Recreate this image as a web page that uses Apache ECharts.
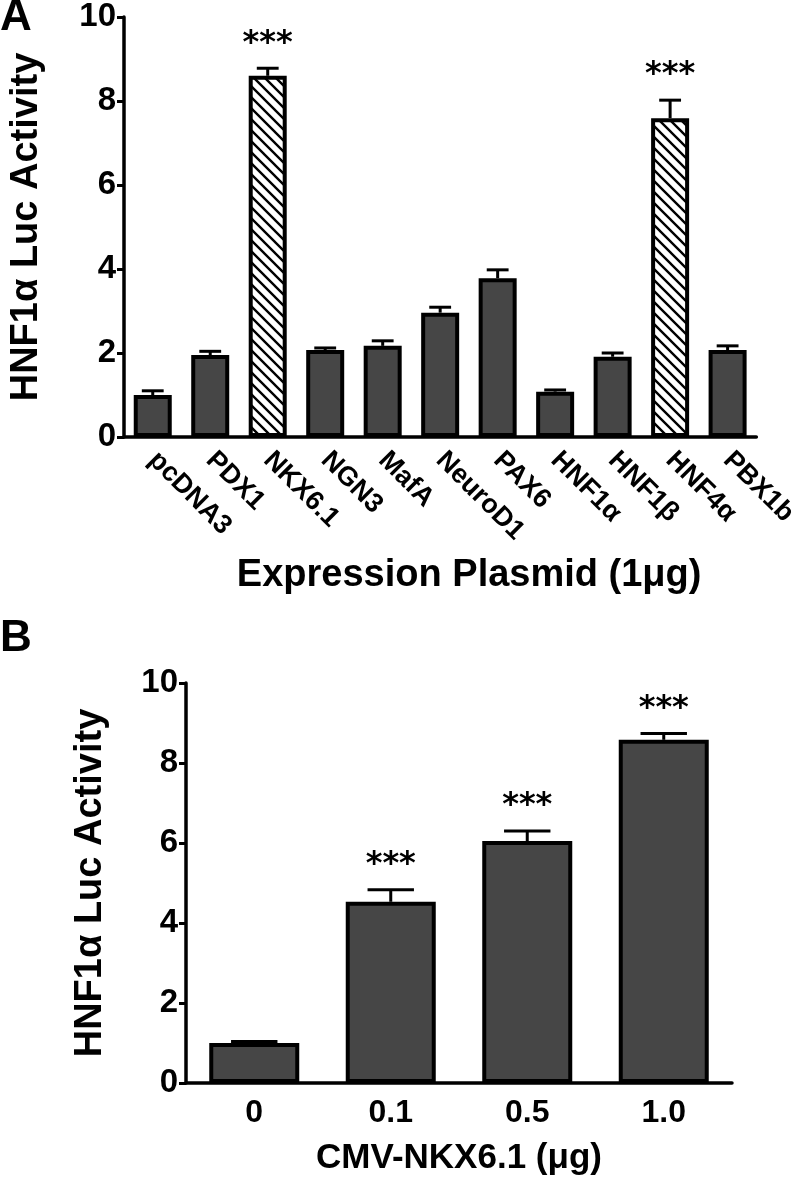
<!DOCTYPE html>
<html>
<head>
<meta charset="utf-8">
<script src="https://cdn.jsdelivr.net/npm/echarts@6/dist/echarts.min.js"></script>
<style>
html,body{margin:0;padding:0;background:#fff;}
#chart{width:800px;height:1181px;}
</style>
</head>
<body>
<div id="chart"></div>
<script>
// ---- Data ----
const catsA = ['pcDNA3','PDX1','NKX6.1','NGN3','MafA','NeuroD1','PAX6','HNF1α','HNF1β','HNF4α','PBX1b'];
const valsA = [1.0, 1.95, 8.6, 2.07, 2.17, 2.96, 3.78, 1.08, 1.91, 7.59, 2.07];
const errA  = [0.10, 0.09, 0.18, 0.05, 0.12, 0.13, 0.20, 0.04, 0.09, 0.43, 0.10];
const hatchA = [false, false, true, false, false, false, false, false, false, true, false];
const sigA  = ['', '', '***', '', '', '', '', '', '', '***', ''];

const catsB = ['0', '0.1', '0.5', '1.0'];
const valsB = [1.0, 4.53, 6.05, 8.58];
const errB  = [0.04, 0.30, 0.25, 0.16];
const sigB  = ['', '***', '***', '***'];

const yTicks = [0, 2, 4, 6, 8, 10];

const titleA = 'Expression Plasmid (1μg)';
const titleB = 'CMV-NKX6.1 (μg)';
const yTitle = 'HNF1α Luc Activity';

// ---- Style ----
const FONT = 'Liberation Sans';
const STAR_FONT = 'DejaVu Sans';
const BAR = '#464646';

function hatchPattern() {
  const s = 11;
  const c = document.createElement('canvas');
  c.width = s; c.height = s;
  const ctx = c.getContext('2d');
  ctx.fillStyle = '#fff';
  ctx.fillRect(0, 0, s, s);
  ctx.strokeStyle = '#000';
  ctx.lineWidth = 2.4;
  ctx.beginPath();
  ctx.moveTo(-1, -1); ctx.lineTo(s + 1, s + 1);
  ctx.moveTo(-s - 1, -1); ctx.lineTo(1, s + 1);
  ctx.moveTo(s - 1, -s - 1); ctx.lineTo(2 * s + 1, s + 1);
  ctx.moveTo(-1, -s - 1); ctx.lineTo(s + 1, 1);
  ctx.moveTo(-1, s - 1); ctx.lineTo(1, s + 1);
  ctx.stroke();
  return c;
}
const hatch = { image: hatchPattern(), repeat: 'repeat' };

function yAxisCfg(gridIndex, gap) {
  return {
    type: 'value', gridIndex: gridIndex,
    min: yTicks[0], max: yTicks[yTicks.length - 1], interval: yTicks[1] - yTicks[0],
    name: yTitle, nameLocation: 'middle', nameGap: gap, nameRotate: 90,
    nameTextStyle: { fontFamily: FONT, fontWeight: 'bold', fontSize: 38, color: '#000', padding: [0, 0, 14, 0] },
    axisLine: { show: true, lineStyle: { color: '#000', width: 3.5 } },
    axisTick: { show: true, length: 7, lineStyle: { color: '#000', width: 3 } },
    axisLabel: { fontFamily: FONT, fontWeight: 'bold', fontSize: 33, color: '#000', margin: 8 },
    splitLine: { show: false }
  };
}

function errSeries(xi, yi, vals, errs, sigs, capFrac) {
  return {
    type: 'custom', xAxisIndex: xi, yAxisIndex: yi, z: 5,
    data: vals.map((v, i) => [i, v, errs[i]]),
    renderItem: function (params, api) {
      const x = api.value(0), v = api.value(1), e = api.value(2);
      const base = api.coord([x, v]);
      const top = api.coord([x, v + e]);
      const hw = api.size([1, 0])[0] * capFrac;
      const children = [
        { type: 'line', shape: { x1: base[0], y1: base[1], x2: top[0], y2: top[1] },
          style: { stroke: '#000', lineWidth: 3 } },
        { type: 'line', shape: { x1: top[0] - hw, y1: top[1], x2: top[0] + hw, y2: top[1] },
          style: { stroke: '#000', lineWidth: 3 } }
      ];
      const s = sigs[params.dataIndex];
      if (s) {
        children.push({ type: 'text', x: top[0], y: top[1] - 25,
          style: { text: s, fontFamily: STAR_FONT, fontWeight: 'bold', fontSize: 32, fill: '#000',
                   align: 'center', verticalAlign: 'middle' } });
      }
      return { type: 'group', children: children };
    }
  };
}

const chart = echarts.init(document.getElementById('chart'), null, { renderer: 'canvas' });
chart.setOption({
  animation: false,
  backgroundColor: '#fff',
  title: [
    { text: 'A', left: 0, top: -4, padding: 0,
      textStyle: { fontFamily: FONT, fontWeight: 'bold', fontSize: 44, color: '#000' } },
    { text: 'B', left: 0, top: 617, padding: 0,
      textStyle: { fontFamily: FONT, fontWeight: 'bold', fontSize: 44, color: '#000' } }
  ],
  grid: [
    { left: 117, width: 650, top: 17, height: 420 },
    { left: 186, width: 546, top: 683, height: 400 }
  ],
  xAxis: [
    {
      type: 'category', gridIndex: 0, data: catsA,
      name: titleA, nameLocation: 'middle', nameGap: 120,
      nameTextStyle: { fontFamily: FONT, fontWeight: 'bold', fontSize: 38, color: '#000', padding: [0, 0, 0, 58] },
      axisLine: { lineStyle: { color: '#000', width: 3.5 } },
      axisTick: { alignWithLabel: true, length: 9, lineStyle: { color: '#000', width: 3 } },
      axisLabel: { rotate: -45, interval: 0, fontFamily: FONT, fontWeight: 'bold', fontSize: 27, color: '#000', margin: 19 }
    },
    {
      type: 'category', gridIndex: 1, data: catsB,
      name: titleB, nameLocation: 'middle', nameGap: 58,
      nameTextStyle: { fontFamily: FONT, fontWeight: 'bold', fontSize: 35, color: '#000' },
      axisLine: { lineStyle: { color: '#000', width: 3.5 } },
      axisTick: { alignWithLabel: true, length: 9, lineStyle: { color: '#000', width: 3 } },
      axisLabel: { interval: 0, fontFamily: FONT, fontWeight: 'bold', fontSize: 32, color: '#000', margin: 14 }
    }
  ],
  yAxis: [ yAxisCfg(0, 64), yAxisCfg(1, 62) ],
  series: [
    {
      type: 'bar', xAxisIndex: 0, yAxisIndex: 0, barWidth: 38,
      itemStyle: { color: BAR, borderColor: '#000', borderWidth: 4 },
      data: valsA.map((v, i) => hatchA[i] ? { value: v, itemStyle: { color: hatch } } : v)
    },
    errSeries(0, 0, valsA, errA, sigA, 0.19),
    {
      type: 'bar', xAxisIndex: 1, yAxisIndex: 1, barWidth: 90,
      itemStyle: { color: BAR, borderColor: '#000', borderWidth: 4 },
      data: valsB
    },
    errSeries(1, 1, valsB, errB, sigB, 0.17)
  ]
});
</script>
</body>
</html>
